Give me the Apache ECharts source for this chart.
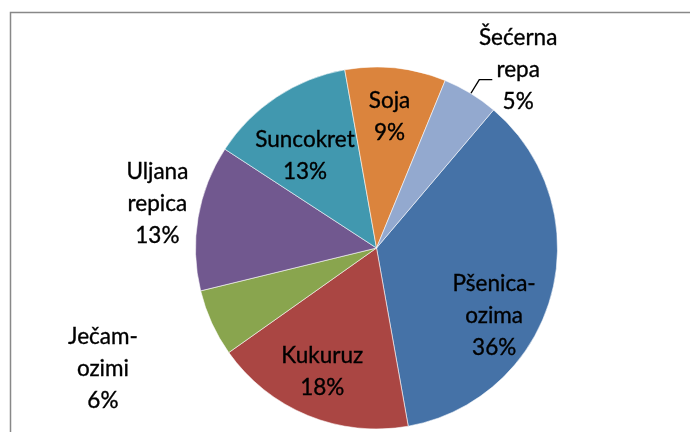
<!DOCTYPE html>
<html>
<head>
<meta charset="utf-8">
<script src="https://cdn.jsdelivr.net/npm/echarts@6/dist/echarts.min.js"></script>
<style>
html,body{margin:0;padding:0;background:#fff;}
#c{width:690px;height:432px;}
</style>
</head>
<body>
<div id="c"></div>
<script>
var categories = ['Pšenica-\nozima', 'Kukuruz', 'Ječam-\nozimi', 'Uljana\nrepica', 'Suncokret', 'Soja', 'Šećerna\nrepa'];
var values = [36, 18, 6, 13, 13, 9, 5];
var colors = ['#4572A7', '#AA4643', '#89A54E', '#71588F', '#4198AF', '#DB843D', '#93A9CF'];
// label placement (polar, relative to pie centre): radius factor and angle clockwise from top
var labelRadius = [0.749, 0.746, 1.652, 1.235, 0.646, 0.726, 1.257];
var labelAngle = [119.8, 203.7, 246.2, 281.4, 322.3, 5.7, 38.5];

var CX = 376.5, CY = 248, R = 181;

function polar(k, deg) {
  var a = deg * Math.PI / 180;
  return [CX + k * R * Math.sin(a), CY - k * R * Math.cos(a)];
}

var data = categories.map(function (n, i) {
  var item = { name: n, value: values[i], itemStyle: { color: colors[i] } };
  if (i === 6) {
    item.label = { position: 'outside' };
    item.labelLine = { show: true, length: 16, length2: 13 };
  }
  return item;
});

var chart = echarts.init(document.getElementById('c'), null, { renderer: 'canvas' });
chart.setOption({
  animation: false,
  backgroundColor: '#fff',
  graphic: [{
    type: 'rect',
    shape: { x: 10.5, y: 12.5, width: 900, height: 600 },
    style: { fill: 'none', stroke: '#888', lineWidth: 1.5 },
    silent: true
  }],
  series: [{
    type: 'pie',
    center: [CX, CY],
    radius: [0, R],
    startAngle: 49.7,
    clockwise: true,
    avoidLabelOverlap: false,
    data: data,
    itemStyle: { borderColor: 'rgba(255,255,255,0.7)', borderWidth: 0.8 },
    label: {
      show: true,
      position: 'inside',
      formatter: function (p) { return p.name + '\n' + Math.round(p.percent) + '%'; },
      fontFamily: 'Lato',
      fontSize: 22.5,
      lineHeight: 32,
      color: '#000',
      textBorderColor: '#000',
      textBorderWidth: 0.35,
      align: 'center'
    },
    labelLine: { show: false, lineStyle: { color: '#000', width: 1.4 } },
    labelLayout: function (p) {
      var i = p.dataIndex;
      var pt = polar(labelRadius[i], labelAngle[i]);
      var res = { x: pt[0], y: pt[1], align: 'center', verticalAlign: 'middle' };
      if (i === 6) {
        var a = polar(1.0, 31.4), b = polar(1.09, 31.4);
        res.labelLinePoints = [a, b, [b[0] + 13, b[1]]];
      }
      return res;
    }
  }]
});
</script>
</body>
</html>
